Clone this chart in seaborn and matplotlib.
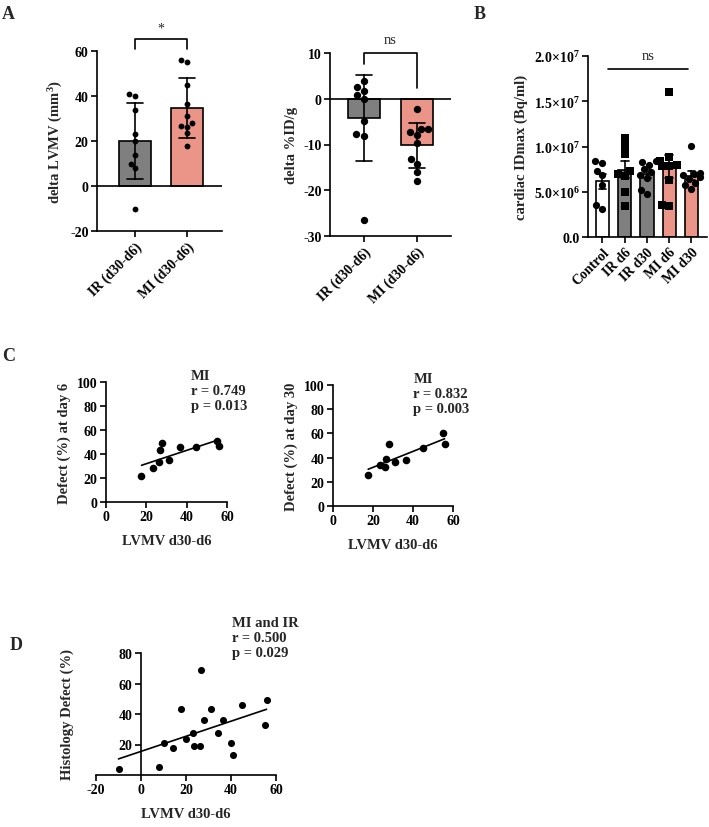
import numpy as np
import pandas as pd
import seaborn as sns
import matplotlib.pyplot as plt

# ---- values ----
# panel A: LV mass volume change (mm3), d30 - d6
ir_lvmv = [41, 40, 34, 23, 20, 14, 10, 8, -10]
mi_lvmv = [17.6, 23.4, 26.2, 26.7, 28.0, 31.2, 36.6, 44.8, 55.2, 55.8]
# panel A: change of %ID/g
ir_idg = [3.9, 2.6, 1.8, 0.8, 0.0, -4.8, -7.8, -8.1, -26.5]
mi_idg = [-2.3, -6.6, -6.6, -7.3, -8.0, -9.7, -13.2, -14.2, -16.1, -17.9]
a_groups = ['IR (d30-d6)', 'MI (d30-d6)']

# panel B: cardiac IDmax (Bq/ml)
b_groups = ['Control', 'IR d6', 'IR d30', 'MI d6', 'MI d30']
control_idmax = [8.4e6, 8.2e6, 7.3e6, 6.8e6, 5.7e6, 3.5e6, 3.1e6]
ir_d6_idmax = [10.9e6, 10.1e6, 9.2e6, 7.3e6, 7.0e6, 6.7e6, 5.0e6, 3.4e6]
ir_d30_idmax = [8.4e6, 8.3e6, 8.0e6, 7.5e6, 7.2e6, 6.8e6, 6.5e6, 5.2e6, 4.7e6]
mi_d6_idmax = [16.0e6, 8.8e6, 8.4e6, 8.0e6, 7.9e6, 7.8e6, 6.3e6, 3.5e6, 3.4e6]
mi_d30_idmax = [10.1e6, 7.1e6, 7.0e6, 6.8e6, 6.6e6, 6.4e6, 6.0e6, 5.7e6, 5.3e6]
b_ticks = [0, 5e6, 1e7, 1.5e7, 2e7]
b_ticklabels = ['0.0', '5.0×10$^{6}$', '1.0×10$^{7}$', '1.5×10$^{7}$', '2.0×10$^{7}$']

# panel C: perfusion defect (%) of the MI animals, same order as mi_lvmv
defect_d6 = [22, 28, 33, 43, 49, 35, 46, 46, 51, 47]
defect_d30 = [26, 33.5, 32.5, 39, 51, 36.5, 38, 48, 60, 51]

# panel D: histology defect (%), same order as ir_lvmv and mi_lvmv
histo_ir = [13, 21, 27.7, 27.7, 23.5, 18, 21, 5.4, 4]
histo_mi = [43, 19, 19, 69, 36, 43, 36, 46, 33, 49]

GRAY = '#7f7f7f'
SALMON = '#fa8a76'

sns.set_style('ticks')
plt.rcParams['font.family'] = ['Liberation Serif', 'DejaVu Serif']
plt.rcParams.update({
    'font.weight': 'bold', 'axes.labelweight': 'bold', 'font.size': 10,
    'mathtext.fontset': 'custom', 'mathtext.rm': 'Liberation Serif:bold',
    'mathtext.default': 'rm', 'axes.unicode_minus': False,
    'axes.linewidth': 1.2, 'axes.edgecolor': 'k',
    'xtick.color': 'k', 'ytick.color': 'k',
    'xtick.major.width': 1.2, 'ytick.major.width': 1.2,
    'xtick.major.size': 4, 'ytick.major.size': 4,
    'xtick.major.pad': 2, 'ytick.major.pad': 2,
    'axes.labelsize': 10.5,
})

fig = plt.figure(figsize=(7.09, 8.28), dpi=100)
W, H = 709, 828


def add_ax(left, top, right, bottom):
    # pixel box -> figure fraction
    return fig.add_axes([left / W, 1 - bottom / H, (right - left) / W, (bottom - top) / H])


def long_df(groups, values):
    return pd.DataFrame({'group': np.repeat(groups, [len(v) for v in values]),
                         'value': np.concatenate(values)})


def bar_swarm(ax, df, order, colors, errorbar, capsize, dot):
    sns.barplot(data=df, x='group', y='value', order=order, hue='group',
                hue_order=order, palette=colors, legend=False, errorbar=errorbar,
                capsize=capsize, width=0.6, edgecolor='k', linewidth=1.2,
                err_kws={'color': 'k', 'linewidth': 1.2}, ax=ax)
    sns.swarmplot(data=df, x='group', y='value', order=order, color='k',
                  size=dot, ax=ax)


# ---------------- A, left ----------------
ax = add_ax(97, 52, 222, 232)
df = long_df(a_groups, [ir_lvmv, mi_lvmv])
bar_swarm(ax, df, a_groups, [GRAY, SALMON], 'sd', 0.3, 4.2)
ax.axhline(0, color='k', lw=1.2)
ax.set_ylim(-20, 60)
ax.set_yticks([-20, 0, 20, 40, 60])
ax.set_xlim(-0.73, 1.67)
ax.set_xticks(range(2), labels=a_groups, rotation=45, ha='right', rotation_mode='anchor')
ax.set_xlabel('')
ax.set_ylabel('delta LVMV (mm$^{3}$)')
sns.despine(ax=ax)
ax.plot([0, 0, 1, 1], [61, 65.5, 65.5, 61], color='k', lw=1.2, clip_on=False)
ax.text(0.5, 67.5, '*', ha='center', va='bottom', fontsize=10, fontweight='normal')

# ---------------- A, right ----------------
ax = add_ax(330, 54, 451, 237)
df = long_df(a_groups, [ir_idg, mi_idg])
bar_swarm(ax, df, a_groups, [GRAY, SALMON], 'sd', 0.3, 5.3)
ax.axhline(0, color='k', lw=1.2)
ax.set_ylim(-30, 10)
ax.set_yticks([-30, -20, -10, 0, 10])
ax.set_xlim(-0.645, 1.645)
ax.set_xticks(range(2), labels=a_groups, rotation=45, ha='right', rotation_mode='anchor')
ax.set_xlabel('')
ax.set_ylabel('delta %ID/g')
sns.despine(ax=ax)
ax.plot([0, 0, 1, 1], [7.5, 9.9, 9.9, 2.3], color='k', lw=1.2, clip_on=False)
ax.text(0.5, 11.5, 'ns', ha='center', va='bottom', fontsize=10.5, fontweight='normal')

# ---------------- B ----------------
ax = add_ax(588, 57, 707, 238)
b_vals = [control_idmax, ir_d6_idmax, ir_d30_idmax, mi_d6_idmax, mi_d30_idmax]
df = long_df(b_groups, b_vals)
sns.barplot(data=df, x='group', y='value', order=b_groups, hue='group', hue_order=b_groups,
            palette=['white', GRAY, GRAY, SALMON, SALMON], legend=False, errorbar='se',
            capsize=0.35, width=0.6, edgecolor='k', linewidth=1.2,
            err_kws={'color': 'k', 'linewidth': 1.2}, ax=ax)
d6 = df['group'].str.endswith('d6')
sns.swarmplot(data=df[~d6], x='group', y='value', order=b_groups, color='k', size=5.2, ax=ax)
sns.swarmplot(data=df[d6], x='group', y='value', order=b_groups, color='k', size=5.2,
              marker='s', ax=ax)
ax.set_ylim(0, 2e7)
ax.set_yticks(b_ticks, labels=b_ticklabels)
ax.set_xlim(-0.65, 4.7)
ax.set_xticks(range(5), labels=b_groups, rotation=45, ha='right', rotation_mode='anchor')
ax.set_xlabel('')
ax.set_ylabel('cardiac IDmax (Bq/ml)')
sns.despine(ax=ax)
ax.plot([0.25, 3.85], [1.86e7, 1.86e7], color='k', lw=1.2, clip_on=False)
ax.text(2.05, 1.93e7, 'ns', ha='center', va='bottom', fontsize=10.5, fontweight='normal')


# ---------------- C and D scatter panels ----------------
def scatter_reg(ax, x, y, s):
    sns.regplot(x=x, y=y, ci=None, color='k', ax=ax,
                scatter_kws={'s': s, 'linewidths': 0, 'alpha': 1},
                line_kws={'linewidth': 1.2})
    sns.despine(ax=ax)


ax = add_ax(106, 383, 227, 503)
scatter_reg(ax, mi_lvmv, defect_d6, 30)
ax.set_xlim(0, 60)
ax.set_ylim(0, 100)
ax.set_xticks([0, 20, 40, 60])
ax.set_yticks(range(0, 101, 20))
ax.set_xlabel('LVMV d30-d6', labelpad=8)
ax.set_ylabel('Defect (%) at day 6')
ax.text(0.70, 1.11, 'MI\nr = 0.749\np = 0.013', transform=ax.transAxes, ha='left', va='top',
        fontsize=10.5, linespacing=1.2)

ax = add_ax(333, 386, 453, 507)
scatter_reg(ax, mi_lvmv, defect_d30, 30)
ax.set_xlim(0, 60)
ax.set_ylim(0, 100)
ax.set_xticks([0, 20, 40, 60])
ax.set_yticks(range(0, 101, 20))
ax.set_xlabel('LVMV d30-d6', labelpad=8)
ax.set_ylabel('Defect (%) at day 30')
ax.text(0.67, 1.11, 'MI\nr = 0.832\np = 0.003', transform=ax.transAxes, ha='left', va='top',
        fontsize=10.5, linespacing=1.2)

ax = add_ax(96, 654, 276, 776)
scatter_reg(ax, ir_lvmv + mi_lvmv, histo_ir + histo_mi, 26)
ax.spines['left'].set_position(('data', 0))
ax.set_xlim(-20, 60)
ax.set_ylim(0, 80)
ax.set_xticks([-20, 0, 20, 40, 60])
ax.set_yticks([20, 40, 60, 80])
ax.set_xlabel('LVMV d30-d6', labelpad=8)
ax.set_ylabel('Histology Defect (%)')
ax.yaxis.set_label_coords(-0.12, 0.5)
ax.text(0.755, 1.30, 'MI and IR\nr = 0.500\np = 0.029', transform=ax.transAxes, ha='left',
        va='top', fontsize=10.5, linespacing=1.2)

# panel letters
for letter, (px, py) in zip('ABCD', [(2, 6), (474, 6), (2, 348), (10, 637)]):
    fig.text(px / W, 1 - py / H, letter, fontsize=13, fontweight='bold', va='top', ha='left')

fig.savefig('out.png', dpi=100)
